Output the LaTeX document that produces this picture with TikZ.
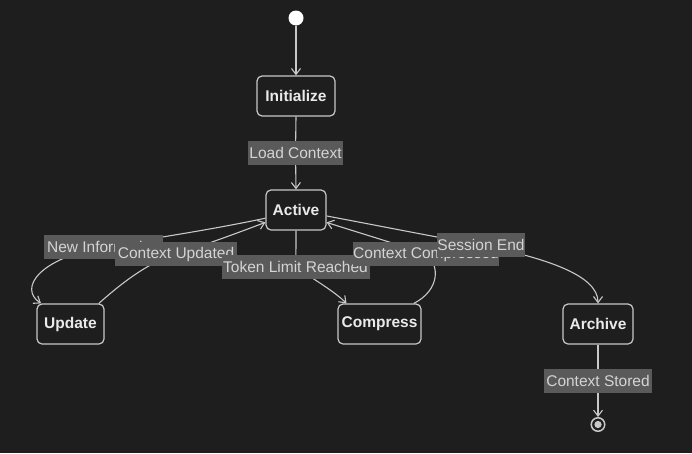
\documentclass[tikz,border=0pt]{standalone}
\usepackage{fontspec}
\setmainfont{Liberation Sans}
\usetikzlibrary{arrows.meta}
\definecolor{bgc}{HTML}{1E1E1E}
\definecolor{linec}{HTML}{C8C8C8}
\definecolor{lblfill}{HTML}{5A5A5A}
\definecolor{lbltext}{HTML}{D4D4D4}
\definecolor{nodetext}{HTML}{EAEAEA}
\pgfdeclarelayer{bglayer}
\pgfdeclarelayer{edgelayer}
\pgfsetlayers{bglayer,edgelayer,main}
\begin{document}
\begin{tikzpicture}[x=1pt,y=-1pt,
  state/.style={draw=linec, line width=1.2pt, rounded corners=5pt, fill=bgc, text=nodetext,
    font=\fontsize{15.5}{18}\selectfont\bfseries, minimum height=40pt, inner sep=0pt},
  lbl/.style={fill=lblfill, text=lbltext, font=\fontsize{15.5}{18}\selectfont,
    minimum height=24pt, inner sep=0pt},
  edge/.style={draw=linec, line width=1.1pt, -{Straight Barb[length=6pt,width=9pt]}}]
\useasboundingbox (0,0) rectangle (692,453);
\begin{pgfonlayer}{bglayer}
  \fill[bgc] (0,0) rectangle (692,453);
\end{pgfonlayer}

% states
\node[circle, fill=white, minimum size=15pt, inner sep=0pt] (start) at (296,18) {};
\node[state, minimum width=78pt] (ini) at (296,96) {Initialize};
\node[state, minimum width=60pt] (act) at (296,210) {Active};
\node[state, minimum width=67pt] (upd) at (70.5,324) {Update};
\node[state, minimum width=83pt] (cmp) at (379.5,324) {Compress};
\node[state, minimum width=70pt] (arc) at (598,324) {Archive};
\node[circle, draw=linec, line width=1.5pt, fill=bgc, minimum size=13.5pt, inner sep=0pt] (end) at (598,424.5) {};
\fill[linec] (end.center) circle (3.6pt);

% labels (drawn in order, later ones on top)
\node[lbl, minimum width=95pt] (lc) at (295.5,152.5) {Load Context};
\node[lbl, minimum width=119pt] (ni) at (103.5,247) {New Information};
\node[lbl, minimum width=122pt] (cu) at (176,254) {Context Updated};
\node[lbl, minimum width=148pt] (tl) at (295.5,267) {Token Limit Reached};
\node[lbl, minimum width=146pt] (cc) at (426,254) {Context Compressed};
\node[lbl, minimum width=82pt] (se) at (481,245) {Session End};
\node[lbl, minimum width=108pt] (cs) at (598,380.5) {Context Stored};

% connectors
\begin{pgfonlayer}{edgelayer}
  \draw[edge] (start) -- (ini.north);
  \draw[edge] (ini.south) -- (lc.center) -- (act.north);
  \draw[edge] (act.195) .. controls (200,232) and (140,240) .. (ni.center)
              .. controls (40,258) and (18,288) .. (upd.145);
  \draw[edge] (upd.36) .. controls (125,280) and (150,262) .. (cu.center)
              .. controls (205,245) and (240,232) .. (act.202);
  \draw[edge] (act.south) .. controls (296,245) and (296,255) .. (tl.center)
              .. controls (315,280) and (335,292) .. (cmp.148);
  \draw[edge] (cmp.31) .. controls (440,290) and (440,265) .. (cc.center)
              .. controls (400,245) and (350,230) .. (act.338);
  \draw[edge] (act.349) .. controls (380,226) and (430,236) .. (se.center)
              .. controls (545,258) and (598,275) .. (arc.north);
  \draw[edge] (arc.south) -- (cs.center) -- (end.north);
\end{pgfonlayer}
\end{tikzpicture}
\end{document}
